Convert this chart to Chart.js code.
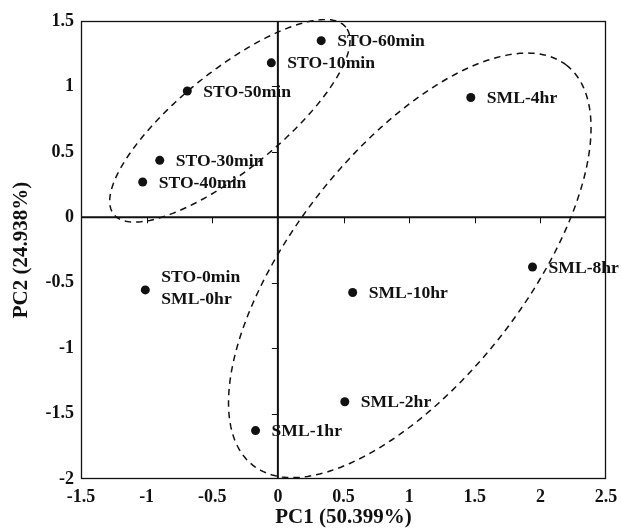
<!DOCTYPE html>
<html>
<head>
<meta charset="utf-8">
<script src="https://cdn.jsdelivr.net/npm/chart.js@4.4.1/dist/chart.umd.min.js"></script>
<style>
html,body{margin:0;padding:0;background:#fff;}
canvas{display:block;}
</style>
</head>
<body>
<canvas id="c" width="621" height="530"></canvas>
<script>
// ---- data ----
const pointLabels = ['STO-0min\nSML-0hr','STO-10min','STO-30min','STO-40min','STO-50min','STO-60min',
  'SML-1hr','SML-2hr','SML-4hr','SML-8hr','SML-10hr'];
const pc1 = [-1.01, -0.05, -0.90, -1.03, -0.69, 0.33, -0.17, 0.51, 1.47, 1.94, 0.57];
const pc2 = [-0.555, 1.18, 0.435, 0.27, 0.965, 1.35, -1.63, -1.41, 0.915, -0.38, -0.575];
const xTickLabels = ['-1.5','-1','-0.5','0','0.5','1','1.5','2','2.5'];
const yTickLabels = ['-2','-1.5','-1','-0.5','0','0.5','1','1.5'];
// group ellipses (data units): centre x, centre y, semi-axis a, semi-axis b, angle (deg)
const ellipseCX = [-0.366, 1.005];
const ellipseCY = [0.737, -0.367];
const ellipseA = [1.137, 1.94];
const ellipseB = [0.380, 0.88];
const ellipseAngle = [39, 52];
const xTitle = 'PC1 (50.399%)';
const yTitle = 'PC2 (24.938%)';

const INK = '#111';
const FONT = "'Liberation Serif', 'Times New Roman', serif";

const points = pc1.map((x, i) => ({x: x, y: pc2[i]}));

const decorPlugin = {
  id: 'decor',
  beforeDatasetsDraw(chart) {
    const {ctx, chartArea: a, scales: {x, y}} = chart;
    ctx.save();
    // frame
    ctx.strokeStyle = INK;
    ctx.lineWidth = 1.3;
    ctx.strokeRect(a.left + 0.5, a.top + 0.5, a.right - a.left - 1, a.bottom - a.top - 1);
    // zero axes
    const x0 = x.getPixelForValue(0), y0 = y.getPixelForValue(0);
    ctx.lineWidth = 2;
    ctx.beginPath();
    ctx.moveTo(a.left, y0); ctx.lineTo(a.right, y0);
    ctx.moveTo(x0, a.top); ctx.lineTo(x0, a.bottom);
    ctx.stroke();
    // tick marks on the zero axes
    ctx.lineWidth = 1;
    ctx.beginPath();
    x.ticks.forEach(t => {
      if (t.value === 0 || t.value === x.min || t.value === x.max) return;
      const px = Math.round(x.getPixelForValue(t.value)) + 0.5;
      ctx.moveTo(px, y0); ctx.lineTo(px, y0 + 6);
    });
    y.ticks.forEach(t => {
      if (t.value === 0 || t.value === y.min || t.value === y.max) return;
      const py = Math.round(y.getPixelForValue(t.value)) + 0.5;
      ctx.moveTo(x0, py); ctx.lineTo(x0 - 6, py);
    });
    ctx.stroke();
    ctx.restore();
  },
  afterDatasetsDraw(chart) {
    const {ctx, chartArea: a, scales: {x, y}} = chart;
    ctx.save();
    // ellipses
    ctx.beginPath();
    ctx.rect(a.left, a.top - 2, a.right - a.left, a.bottom - a.top + 3);
    ctx.clip();
    ctx.strokeStyle = INK;
    ctx.lineWidth = 1.5;
    ctx.setLineDash([6.5, 5]);
    for (let e = 0; e < ellipseCX.length; e++) {
      const th = ellipseAngle[e] * Math.PI / 180;
      ctx.beginPath();
      const N = 240;
      for (let k = 0; k <= N; k++) {
        const t = k / N * 2 * Math.PI;
        const dx = ellipseA[e] * Math.cos(t), dy = ellipseB[e] * Math.sin(t);
        const vx = ellipseCX[e] + dx * Math.cos(th) - dy * Math.sin(th);
        const vy = ellipseCY[e] + dx * Math.sin(th) + dy * Math.cos(th);
        const px = x.getPixelForValue(vx), py = y.getPixelForValue(vy);
        if (k === 0) ctx.moveTo(px, py); else ctx.lineTo(px, py);
      }
      ctx.stroke();
    }
    ctx.restore();
    // point labels
    ctx.save();
    ctx.fillStyle = INK;
    ctx.font = 'bold 17.6px ' + FONT;
    ctx.textAlign = 'left';
    ctx.textBaseline = 'middle';
    const meta = chart.getDatasetMeta(0);
    meta.data.forEach((el, i) => {
      const lines = pointLabels[i].split('\n');
      lines.forEach((ln, j) => {
        const off = (j - (lines.length - 1) / 2) * 22 - (lines.length > 1 ? 2 : 0);
        ctx.fillText(ln, el.x + 16, el.y + off + 1);
      });
    });
    ctx.restore();
  }
};

new Chart(document.getElementById('c'), {
  type: 'scatter',
  data: {
    datasets: [{
      data: points,
      pointRadius: 4.5,
      pointHoverRadius: 4.5,
      backgroundColor: INK,
      borderWidth: 0
    }]
  },
  options: {
    responsive: false,
    animation: false,
    devicePixelRatio: 1,
    layout: {padding: {top: 21, right: 15, left: 0, bottom: 0}},
    plugins: {legend: {display: false}, tooltip: {enabled: false}},
    scales: {
      x: {
        type: 'linear', min: -1.5, max: 2.5,
        afterFit(s) { s.height = 51; s.paddingRight = 0; s.paddingLeft = 0; },
        grid: {display: false, drawTicks: false},
        border: {display: false},
        ticks: {
          stepSize: 0.5, padding: 8, color: INK, maxRotation: 0, autoSkip: false,
          font: {family: FONT, weight: 'bold', size: 18},
          callback: (v, i) => xTickLabels[i]
        },
        title: {
          display: true, text: xTitle, color: INK, padding: {top: 0, bottom: 0},
          font: {family: FONT, weight: 'bold', size: 21}
        }
      },
      y: {
        type: 'linear', min: -2, max: 1.5,
        afterFit(s) { s.width = 81; s.paddingTop = 0; s.paddingBottom = 0; },
        grid: {display: false, drawTicks: false},
        border: {display: false},
        ticks: {
          stepSize: 0.5, padding: 7, color: INK, autoSkip: false,
          font: {family: FONT, weight: 'bold', size: 18},
          callback: (v, i) => yTickLabels[i]
        },
        title: {
          display: true, text: yTitle, color: INK, padding: {top: 9, bottom: 0},
          font: {family: FONT, weight: 'bold', size: 21}
        }
      }
    }
  },
  plugins: [decorPlugin]
});
</script>
</body>
</html>
